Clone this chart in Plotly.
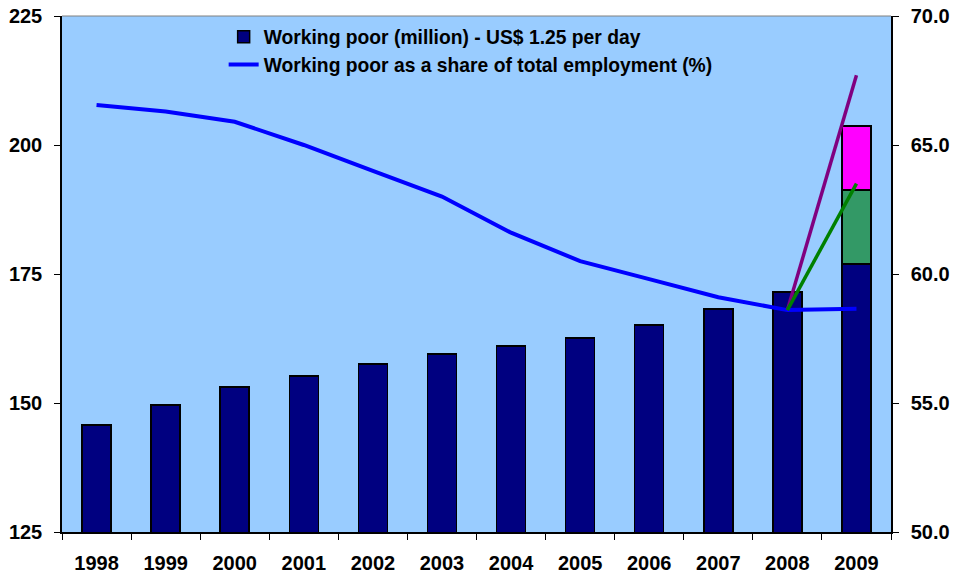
import plotly.graph_objects as go

years = ["1998", "1999", "2000", "2001", "2002", "2003", "2004", "2005", "2006", "2007", "2008", "2009"]
working_poor = [145.7, 149.6, 153.1, 155.2, 157.6, 159.5, 161.0, 162.6, 165.1, 168.2, 171.5, 176.9]
extra_green_2009 = 14.4   # 176.9 -> 191.3
extra_magenta_2009 = 12.4  # 191.3 -> 203.7
share_pct = [66.55, 66.3, 65.9, 65.0, 64.0, 63.0, 61.6, 60.5, 59.8, 59.1, 58.6, 58.65]
green_scenario = [58.6, 63.5]
purple_scenario = [58.6, 67.7]
scen_years = ["2008", "2009"]

font_family = "Liberation Sans, Arial, sans-serif"
tick_font = dict(size=20, family=font_family, weight="bold", color="black")
legend_font = dict(size=19.3, family=font_family, weight="bold", color="black")

fig = go.Figure()
fig.add_trace(go.Bar(
    x=years, y=working_poor, name="Working poor (million) - US$ 1.25 per day",
    marker=dict(color="#000080", line=dict(color="black", width=1.5)), yaxis="y",
    legend="legend",
))
fig.add_trace(go.Bar(
    x=["2009"], y=[extra_green_2009], showlegend=False,
    marker=dict(color="#339966", line=dict(color="black", width=1.5)), yaxis="y",
))
fig.add_trace(go.Bar(
    x=["2009"], y=[extra_magenta_2009], showlegend=False,
    marker=dict(color="#FF00FF", line=dict(color="black", width=1.5)), yaxis="y",
))
fig.add_trace(go.Scatter(
    x=years, y=share_pct, mode="lines", name="Working poor as a share of total employment (%)",
    line=dict(color="#0000FF", width=4), yaxis="y2", legend="legend2",
))
fig.add_trace(go.Scatter(
    x=scen_years, y=purple_scenario, mode="lines", showlegend=False,
    line=dict(color="#800080", width=3.5), yaxis="y2",
))
fig.add_trace(go.Scatter(
    x=scen_years, y=green_scenario, mode="lines", showlegend=False,
    line=dict(color="#008000", width=3.5), yaxis="y2",
))

fig.update_layout(
    width=955, height=579,
    margin=dict(l=62, r=64, t=16, b=47, autoexpand=False),
    paper_bgcolor="white",
    plot_bgcolor="#99CCFF",
    barmode="stack",
    bargap=0.58,
    font=dict(family=font_family, size=18, color="black"),
    xaxis=dict(
        type="category", showline=True, linecolor="black", linewidth=1.5,
        ticks="outside", tickson="boundaries", ticklen=6, tickcolor="black",
        tickfont=tick_font, showgrid=False, mirror=False, automargin=False,
        ticklabelstandoff=12, ticklabeloverflow="allow",
    ),
    yaxis=dict(
        range=[125, 225], tickvals=[125, 150, 175, 200, 225], showline=True,
        linecolor="black", linewidth=1.5, ticks="outside", ticklen=6, tickcolor="black",
        showgrid=False, zeroline=False, tickfont=tick_font, automargin=False,
        ticklabelstandoff=8, ticklabeloverflow="allow",
    ),
    yaxis2=dict(
        range=[50, 70], tickvals=[50, 55, 60, 65, 70], tickformat=".1f", overlaying="y", side="right",
        showline=True, linecolor="black", linewidth=1.5, ticks="outside", ticklen=6, tickcolor="black",
        showgrid=False, zeroline=False, tickfont=tick_font, automargin=False,
        ticklabelstandoff=8, ticklabeloverflow="allow",
    ),
    legend=dict(
        x=0.195, y=0.959, xanchor="left", yanchor="middle", bgcolor="rgba(0,0,0,0)",
        font=legend_font, itemwidth=30,
    ),
    legend2=dict(
        x=0.195, y=0.905, xanchor="left", yanchor="middle", bgcolor="rgba(0,0,0,0)",
        font=legend_font, itemwidth=30,
    ),
    shapes=[dict(type="line", xref="paper", yref="paper", x0=0, x1=1, y0=1, y1=1,
                 line=dict(color="#808080", width=1))],
)

fig.write_html("out.html", config={"displayModeBar": False},
               post_script="document.body.style.margin='0px';")
